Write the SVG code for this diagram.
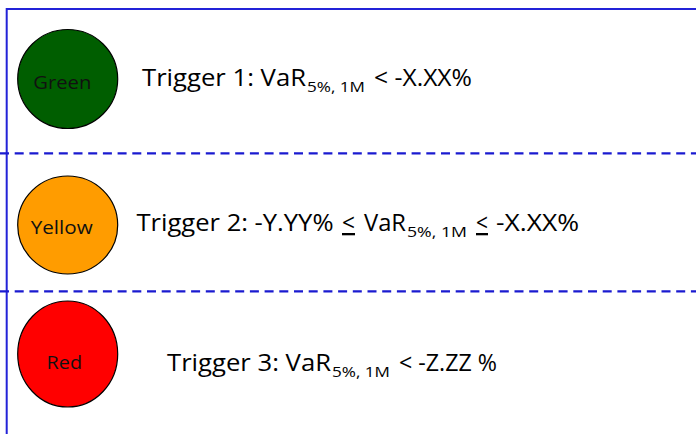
<svg xmlns="http://www.w3.org/2000/svg" width="696" height="434" viewBox="0 0 696 434">
<style>
.frame{fill:none;stroke:#2323d8;stroke-width:2}
.sep{fill:none;stroke:#1a1ad0;stroke-width:2.2;stroke-dasharray:9 5.7}
.light{stroke:#000;stroke-width:1.2}
.lbl{font-family:"Open Sans","Liberation Sans",sans-serif;font-weight:400;font-size:19px;fill:#111}
.main{font-family:"Open Sans","Liberation Sans",sans-serif;font-weight:400;font-size:23px;fill:#000}
.sub{font-family:"Open Sans","Liberation Sans",sans-serif;font-weight:400;font-size:14.5px;fill:#000}
.ul{text-decoration:underline}
</style>
<g id="frame">
<path class="frame" d="M6.7 440 V9 H700"/>
</g>
<g id="connectors">
<line class="sep" x1="0" y1="153.3" x2="700" y2="153.3"/>
<line class="sep" x1="0" y1="291.3" x2="700" y2="291.3"/>
</g>
<g id="green">
<ellipse class="light" cx="67.7" cy="79" rx="50" ry="49.5" fill="#005e00"/>
<text class="lbl" x="33.3" y="89.3" textLength="58" lengthAdjust="spacingAndGlyphs">Green</text>
</g>
<g id="trigger1">
<text class="main" x="142" y="86" textLength="164" lengthAdjust="spacingAndGlyphs">Trigger 1: VaR</text>
<text class="sub" x="307" y="92" textLength="58" lengthAdjust="spacingAndGlyphs">5%, 1M</text>
<text class="main" x="374" y="86" textLength="98" lengthAdjust="spacingAndGlyphs">&lt; -X.XX%</text>
</g>
<g id="yellow">
<ellipse class="light" cx="67.7" cy="225" rx="50" ry="49" fill="#ff9c00"/>
<text class="lbl" x="30.7" y="234" textLength="62" lengthAdjust="spacingAndGlyphs">Yellow</text>
</g>
<g id="trigger2">
<text class="main" x="136.5" y="231" textLength="197" lengthAdjust="spacingAndGlyphs">Trigger 2: -Y.YY%</text>
<text class="main ul" x="342" y="231" textLength="13" lengthAdjust="spacingAndGlyphs">&lt;</text>
<text class="main" x="364" y="231" textLength="42" lengthAdjust="spacingAndGlyphs">VaR</text>
<text class="sub" x="407" y="237" textLength="60" lengthAdjust="spacingAndGlyphs">5%, 1M</text>
<text class="main ul" x="476" y="231" textLength="12" lengthAdjust="spacingAndGlyphs">&lt;</text>
<text class="main" x="496" y="231" textLength="83" lengthAdjust="spacingAndGlyphs">-X.XX%</text>
</g>
<g id="red">
<ellipse class="light" cx="67.7" cy="354" rx="50" ry="53" fill="#ff0000"/>
<text class="lbl" x="46.6" y="369" textLength="35.4" lengthAdjust="spacingAndGlyphs">Red</text>
</g>
<g id="trigger3">
<text class="main" x="167" y="371" textLength="164" lengthAdjust="spacingAndGlyphs">Trigger 3: VaR</text>
<text class="sub" x="332" y="377" textLength="58" lengthAdjust="spacingAndGlyphs">5%, 1M</text>
<text class="main" x="399" y="371" textLength="98" lengthAdjust="spacingAndGlyphs">&lt; -Z.ZZ %</text>
</g>
</svg>
